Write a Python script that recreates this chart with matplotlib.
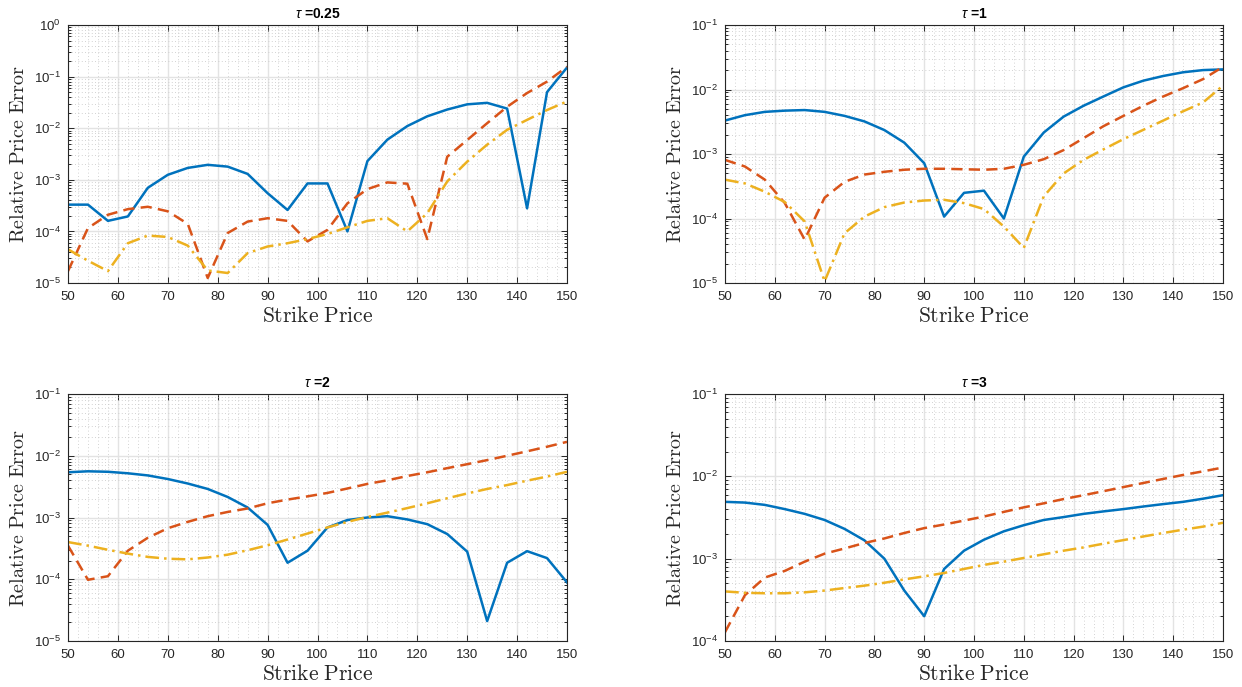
import numpy as np
import matplotlib
matplotlib.use("Agg")
import matplotlib.pyplot as plt
from matplotlib.ticker import MultipleLocator, NullFormatter, LogLocator

# strike grid 50:4:150
strikes = np.arange(50, 151, 4)

# relative price errors, one set of three methods per maturity
err_a_025 = [3.3e-4, 3.3e-4, 1.6e-4, 1.95e-4, 7e-4, 1.25e-3, 1.7e-3, 1.95e-3, 1.8e-3, 1.3e-3,
             5.5e-4, 2.6e-4, 8.5e-4, 8.5e-4, 1.0e-4, 2.3e-3, 6e-3, 1.1e-2, 1.7e-2, 2.3e-2,
             2.9e-2, 3.1e-2, 2.4e-2, 2.8e-4, 5e-2, 1.5e-1]
err_b_025 = [1.7e-5, 1.16e-4, 2.1e-4, 2.7e-4, 3.0e-4, 2.45e-4, 1.4e-4, 1.25e-5, 9.3e-5, 1.55e-4,
             1.8e-4, 1.6e-4, 6.4e-5, 1.07e-4, 3.5e-4, 6.6e-4, 8.9e-4, 8.4e-4, 7.1e-5, 2.8e-3,
             5.9e-3, 1.25e-2, 2.6e-2, 4.8e-2, 8e-2, 1.55e-1]
err_c_025 = [4.5e-5, 2.7e-5, 1.7e-5, 5.9e-5, 8.3e-5, 7.8e-5, 5.3e-5, 1.75e-5, 1.56e-5, 3.8e-5,
             5.1e-5, 5.9e-5, 7.1e-5, 8.9e-5, 1.2e-4, 1.6e-4, 1.8e-4, 1.0e-4, 2.25e-4, 9.3e-4,
             2.25e-3, 4.8e-3, 9.3e-3, 1.45e-2, 2.25e-2, 3.3e-2]

err_a_1 = [3.3e-3, 4.0e-3, 4.5e-3, 4.7e-3, 4.8e-3, 4.5e-3, 3.9e-3, 3.2e-3, 2.35e-3, 1.5e-3,
           7.2e-4, 1.07e-4, 2.5e-4, 2.7e-4, 1.0e-4, 9.1e-4, 2.15e-3, 3.8e-3, 5.6e-3, 7.8e-3,
           1.08e-2, 1.37e-2, 1.62e-2, 1.85e-2, 2.0e-2, 2.05e-2]
err_b_1 = [8.1e-4, 6.4e-4, 4.0e-4, 1.74e-4, 4.7e-5, 2.1e-4, 3.7e-4, 4.8e-4, 5.3e-4, 5.7e-4,
           5.9e-4, 5.9e-4, 5.8e-4, 5.7e-4, 5.9e-4, 6.8e-4, 8.3e-4, 1.15e-3, 1.76e-3, 2.7e-3,
           3.9e-3, 5.6e-3, 7.8e-3, 1.05e-2, 1.45e-2, 2.25e-2]
err_c_1 = [4.0e-4, 3.5e-4, 2.6e-4, 1.8e-4, 9e-5, 1.06e-5, 5.9e-5, 1.07e-4, 1.5e-4, 1.77e-4,
           1.9e-4, 1.95e-4, 1.73e-4, 1.4e-4, 7.5e-5, 3.5e-5, 2.2e-4, 5.0e-4, 8.1e-4, 1.18e-3,
           1.7e-3, 2.37e-3, 3.3e-3, 4.6e-3, 6.3e-3, 1.15e-2]

err_a_2 = [5.4e-3, 5.6e-3, 5.5e-3, 5.2e-3, 4.8e-3, 4.2e-3, 3.55e-3, 2.9e-3, 2.15e-3, 1.45e-3,
           7.6e-4, 1.85e-4, 2.9e-4, 6.9e-4, 9.1e-4, 1.0e-3, 1.05e-3, 9.3e-4, 7.8e-4, 5.4e-4,
           2.8e-4, 2.1e-5, 1.85e-4, 2.85e-4, 2.2e-4, 8.9e-5]
err_b_2 = [3.5e-4, 9.8e-5, 1.12e-4, 2.9e-4, 4.7e-4, 6.7e-4, 8.5e-4, 1.05e-3, 1.23e-3, 1.4e-3,
           1.7e-3, 1.95e-3, 2.2e-3, 2.5e-3, 2.95e-3, 3.5e-3, 4.0e-3, 4.7e-3, 5.4e-3, 6.3e-3,
           7.3e-3, 8.5e-3, 1.0e-2, 1.18e-2, 1.4e-2, 1.68e-2]
err_c_2 = [4.0e-4, 3.5e-4, 3.0e-4, 2.6e-4, 2.3e-4, 2.15e-4, 2.1e-4, 2.25e-4, 2.5e-4, 2.95e-4,
           3.55e-4, 4.4e-4, 5.5e-4, 6.9e-4, 8.5e-4, 1.02e-3, 1.2e-3, 1.42e-3, 1.7e-3, 2.05e-3,
           2.45e-3, 2.9e-3, 3.35e-3, 3.95e-3, 4.6e-3, 5.5e-3]

err_a_3 = [4.9e-3, 4.8e-3, 4.5e-3, 4.0e-3, 3.5e-3, 2.95e-3, 2.3e-3, 1.67e-3, 1.0e-3, 4.1e-4,
           2.0e-4, 7.5e-4, 1.25e-3, 1.7e-3, 2.15e-3, 2.55e-3, 2.95e-3, 3.2e-3, 3.5e-3, 3.75e-3,
           4.0e-3, 4.3e-3, 4.6e-3, 4.9e-3, 5.35e-3, 5.9e-3]
err_b_3 = [1.28e-4, 3.6e-4, 5.9e-4, 7.1e-4, 9.2e-4, 1.15e-3, 1.33e-3, 1.55e-3, 1.76e-3, 2.05e-3,
           2.35e-3, 2.6e-3, 2.9e-3, 3.25e-3, 3.7e-3, 4.2e-3, 4.7e-3, 5.3e-3, 5.9e-3, 6.6e-3,
           7.4e-3, 8.3e-3, 9.3e-3, 1.04e-2, 1.15e-2, 1.28e-2]
err_c_3 = [4.0e-4, 3.85e-4, 3.8e-4, 3.8e-4, 3.9e-4, 4.1e-4, 4.4e-4, 4.7e-4, 5.1e-4, 5.6e-4,
           6.1e-4, 6.7e-4, 7.5e-4, 8.4e-4, 9.2e-4, 1.02e-3, 1.13e-3, 1.25e-3, 1.37e-3, 1.52e-3,
           1.68e-3, 1.86e-3, 2.05e-3, 2.25e-3, 2.45e-3, 2.73e-3]

taus = ["0.25", "1", "2", "3"]
errors = [(err_a_025, err_b_025, err_c_025),
          (err_a_1, err_b_1, err_c_1),
          (err_a_2, err_b_2, err_c_2),
          (err_a_3, err_b_3, err_c_3)]
ylims = [(1e-5, 1e0), (1e-5, 1e-1), (1e-5, 1e-1), (1e-4, 1e-1)]

# MATLAB-like look
plt.rcParams['font.family'] = ['Liberation Sans', 'DejaVu Sans']
plt.rcParams['mathtext.fontset'] = 'custom'
plt.rcParams['mathtext.rm'] = 'Liberation Sans'
plt.rcParams['mathtext.it'] = 'Liberation Sans:italic'
ink = '#262626'
colors = ['#0072BD', '#D95319', '#EDB120']
styles = ['-', (0, (4.5, 2.5)), (0, (5.5, 2.0, 1.0, 2.0))]

W, H = 1242, 687
fig = plt.figure(figsize=(W / 100, H / 100), dpi=100)
boxes = [(68, 25, 567, 283), (725, 25, 1223, 283),
         (68, 394, 567, 641), (725, 394, 1223, 641)]

for k, (x0, y0, x1, y1) in enumerate(boxes):
    ax = fig.add_axes([x0 / W, 1 - y1 / H, (x1 - x0) / W, (y1 - y0) / H])
    for vals, c, ls in zip(errors[k], colors, styles):
        ax.semilogy(strikes, vals, color=c, linestyle=ls, linewidth=1.8)
    ax.set_xlim(50, 150)
    ax.set_ylim(*ylims[k])
    ax.xaxis.set_major_locator(MultipleLocator(10))
    ax.xaxis.set_minor_locator(MultipleLocator(2))
    ax.yaxis.set_major_locator(LogLocator(base=10, numticks=12))
    ax.yaxis.set_minor_locator(LogLocator(base=10, subs=np.arange(2, 10), numticks=12))
    ax.yaxis.set_minor_formatter(NullFormatter())

    ax.grid(True, which='major', color='#e3e3e3', linewidth=1.0, linestyle='-')
    ax.grid(True, which='minor', color='#c4c4c4', linewidth=0.6, linestyle=(0, (1, 3)))
    ax.set_axisbelow(True)

    ax.tick_params(which='both', direction='in', top=True, right=True,
                   colors=ink, labelsize=9.5, width=0.7)
    ax.tick_params(which='major', length=4)
    ax.tick_params(which='minor', length=2)
    ax.tick_params(axis='x', which='minor', length=0)
    ax.tick_params(axis='x', which='major', pad=6)
    ax.tick_params(axis='y', which='major', pad=5)
    for s in ax.spines.values():
        s.set_color(ink)
        s.set_linewidth(0.8)

    ax.set_title(r'$\tau$ =' + taus[k], fontsize=10, fontweight='bold', pad=5, color='black')
    ax.set_xlabel(r'$\mathrm{Strike\ Price}$', math_fontfamily='cm',
                  fontsize=15.5, labelpad=2, color=ink)
    ax.set_ylabel(r'$\mathrm{Relative\ Price\ Error}$', math_fontfamily='cm',
                  fontsize=14.5, labelpad=4, color=ink)

fig.savefig('out.png', dpi=100)
